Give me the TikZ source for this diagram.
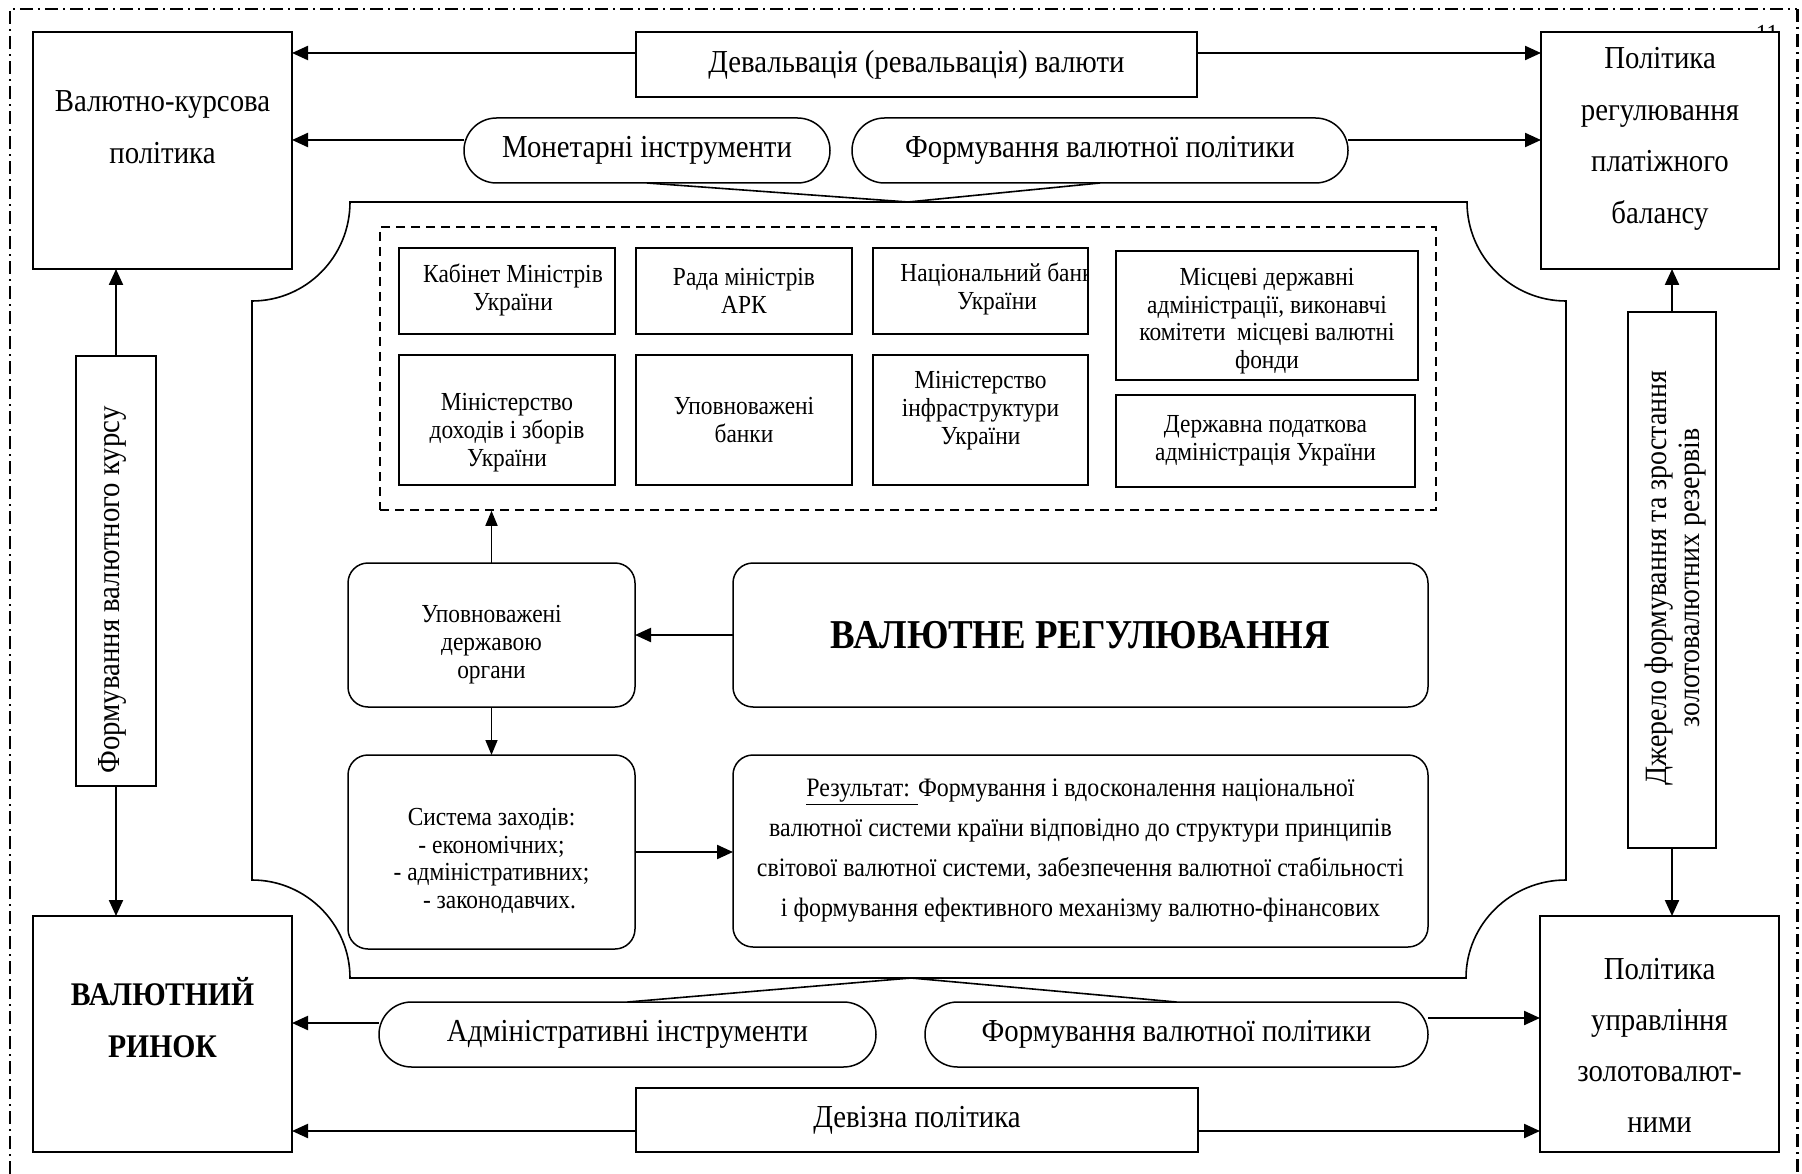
\documentclass[tikz,border=0pt]{standalone}
\usepackage{fontspec}
\setmainfont{Liberation Serif}[FakeStretch=0.9]
\usetikzlibrary{arrows.meta,shapes.misc}
\begin{document}
\begin{tikzpicture}[x=1pt,y=-1pt,
  box/.style={draw,line width=1.5pt,fill=white,inner sep=0pt,outer sep=0pt},
  rbox/.style={box,rounded corners=20pt},
  pill/.style={draw,line width=1.5pt,fill=white,rounded rectangle,inner sep=0pt,outer sep=0pt,font=\fontsize{32}{33}\selectfont},
  arr/.style={line width=2.2pt,-{Triangle[length=16pt,width=14pt]}},
  tarr/.style={line width=1.6pt,-{Triangle[length=15pt,width=12pt]}},
  big/.style={font=\fontsize{32}{51.5}\selectfont,align=center,inner sep=0pt},
  sm/.style={font=\fontsize{26}{28}\selectfont,align=center,inner sep=0pt},
  frame/.style={line width=1.4pt,dash pattern=on 13pt off 5pt on 2pt off 5pt},
  thinline/.style={line width=1.6pt}
]
\useasboundingbox (0,0) rectangle (1802,1174);

% outer dash-dot frame
\draw[frame] (10,1174) -- (10,9) -- (1797,9);
\draw[frame,line width=3pt] (1797,9) -- (1797,1174);

% page number peeking behind the box
\node[font=\fontsize{26}{26}\selectfont,anchor=north,inner sep=0pt] (pg) at (1767,25) {11};

% corner boxes
\node[box,minimum width=259pt,minimum height=237pt] (A) at (162.5,150.5) {};
\node[big] (At) at (162.5,127) {Валютно-курсова\\політика};
\node[box,minimum width=238pt,minimum height=237pt] (C) at (1660,150.5) {};
\node[big] (Ct) at (1660,139) {Політика\\регулювання\\платіжного\\балансу};
\node[box,minimum width=259pt,minimum height=236pt] (B) at (162.5,1034) {};
\node[big,font=\fontsize{33}{52}\selectfont\bfseries] (Bt) at (162.5,1018) {ВАЛЮТНИЙ\\РИНОК};
\node[box,minimum width=239pt,minimum height=236pt] (D) at (1659.5,1034) {};
\node[big,font=\fontsize{32}{51}\selectfont] (Dt) at (1659.5,1045) {Політика\\управління\\золотовалют-\\ними};

% vertical side boxes
\node[box,minimum width=80pt,minimum height=430pt] (vL) at (116,571) {};
\node[rotate=90,font=\fontsize{32}{33}\selectfont,inner sep=0pt] (vLt) at (112,590) {Формування валютного курсу};
\node[box,minimum width=88pt,minimum height=536pt] (vR) at (1672,580) {};
\node[rotate=90,font=\fontsize{31}{33}\selectfont,align=center,inner sep=0pt] (vRt) at (1676,578) {Джерело формування та зростання\\золотовалютних резервів};

% top row
\node[box,minimum width=561pt,minimum height=65pt,font=\fontsize{32}{33}\selectfont] (dev) at (916.5,64.5) {Девальвація (ревальвація) валюти};
\node[pill,minimum width=366pt,minimum height=65pt] (mon) at (647,150.5) {Монетарні інструменти};
\node[pill,minimum width=496pt,minimum height=65pt] (fvt) at (1100,150.5) {Формування валютної політики};

% bottom row
\node[pill,minimum width=497pt,minimum height=65pt] (adm) at (627.5,1034.5) {Адміністративні інструменти};
\node[pill,minimum width=503pt,minimum height=65pt] (fvb) at (1176.5,1034.5) {Формування валютної політики};
\node[box,minimum width=562pt,minimum height=64pt,font=\fontsize{32}{33}\selectfont] (dvz) at (917,1120) {Девізна політика};

% inner frame with concave corners
\draw[line width=1.6pt] (350,202) -- (1467,202)
  .. controls (1467,257) and (1512,301) .. (1566,301) -- (1566,880)
  .. controls (1511,880) and (1466,924) .. (1466,978) -- (350,978)
  .. controls (350,924) and (306,880) .. (252,880) -- (252,301)
  .. controls (306,301) and (350,257) .. (350,202) -- cycle;

% dashed group
\node[draw,line width=1.5pt,dash pattern=on 9pt off 6pt,minimum width=1056pt,minimum height=283pt,inner sep=0pt] (grp) at (908,368.5) {};

\node[box,minimum width=216pt,minimum height=86pt] (k1) at (507,291) {};
\node[sm] (k1t) at (513,290) {Кабінет Міністрів\\України};
\node[box,minimum width=216pt,minimum height=86pt,sm] (k2) at (744,291) {Рада міністрів\\АРК};
\node[box,minimum width=215pt,minimum height=86pt] (k3) at (980.5,291) {};
\begin{scope}
\clip (k3.north west) rectangle (k3.south east);
\node[sm] (k3t) at (997,289) {Національний банк\\України};
\end{scope}
\draw[line width=1.5pt] (k3.north west) rectangle (k3.south east);
\node[box,minimum width=302pt,minimum height=129pt] (k4) at (1267,315.5) {};
\node[sm,font=\fontsize{26}{27.5}\selectfont] (k4t) at (1267,321) {Місцеві державні\\адміністрації, виконавчі\\комітети\ \ місцеві валютні\\фонди};
\node[box,minimum width=216pt,minimum height=130pt] (m1) at (507,420) {};
\node[sm] (m1t) at (507,433) {Міністерство\\доходів і зборів\\України};
\node[box,minimum width=216pt,minimum height=130pt,sm] (m2) at (744,420) {Уповноважені\\банки};
\node[box,minimum width=215pt,minimum height=130pt] (m3) at (980.5,420) {};
\node[sm] (m3t) at (980.5,411) {Міністерство\\інфраструктури\\України};
\node[box,minimum width=299pt,minimum height=92pt,sm] (m4) at (1265.5,441) {Державна податкова\\адміністрація України};

% central blocks
\node[rbox,minimum width=287pt,minimum height=144pt] (org) at (491.5,635) {};
\node[sm] (orgt) at (491.5,645) {Уповноважені\\державою\\органи};
\node[rbox,minimum width=695pt,minimum height=144pt,font=\fontsize{41}{44}\selectfont\bfseries] (vr) at (1080.5,635) {ВАЛЮТНЕ РЕГУЛЮВАННЯ};
\node[rbox,minimum width=287pt,minimum height=194pt] (sys) at (491.5,852) {};
\node[sm,font=\fontsize{26}{27.5}\selectfont] (syst) at (491.5,861) {Система заходів:\\- економічних;\\- адміністративних;\\\hspace*{16pt}- законодавчих.};
\node[rbox,minimum width=695pt,minimum height=192pt,font=\fontsize{26.6}{40}\selectfont,align=center] (res) at (1080.5,851) {\underline{Результат: }Формування і вдосконалення національної\\валютної системи країни відповідно до структури принципів\\світової валютної системи, забезпечення валютної стабільності\\і формування ефективного механізму валютно-фінансових};

% helper coordinates
\coordinate (y1) at (0,53);
\coordinate (y2) at (0,140);
\coordinate (y3) at (0,1023);
\coordinate (y4) at (0,1018);
\coordinate (y5) at (0,1131);
\coordinate (apT) at (908,202);
\coordinate (apB) at (911,978);

% funnels
\draw[thinline] (mon.south) -- (apT) -- (fvt.south);
\draw[thinline] (adm.north) -- (apB) -- (fvb.north);

% arrows
\draw[arr] (dev.west |- y1) -- (A.east |- y1);
\draw[arr] (dev.east |- y1) -- (C.west |- y1);
\draw[arr] (mon.west |- y2) -- (A.east |- y2);
\draw[arr] (fvt.east |- y2) -- (C.west |- y2);
\draw[arr] (adm.west |- y3) -- (B.east |- y3);
\draw[arr] (fvb.east |- y4) -- (D.west |- y4);
\draw[arr] (dvz.west |- y5) -- (B.east |- y5);
\draw[arr] (dvz.east |- y5) -- (D.west |- y5);
\draw[arr] (vL.north) -- (A.south -| vL.north);
\draw[arr] (vL.south) -- (B.north -| vL.south);
\draw[arr] (vR.north) -- (C.south -| vR.north);
\draw[arr] (vR.south) -- (D.north -| vR.south);
\draw[tarr] (org.north) -- (grp.south -| org.north);
\draw[arr] (vr.west) -- (org.east);
\draw[tarr] (org.south) -- (sys.north);
\draw[arr] (sys.east) -- (sys.east -| res.west);
\end{tikzpicture}
\end{document}
